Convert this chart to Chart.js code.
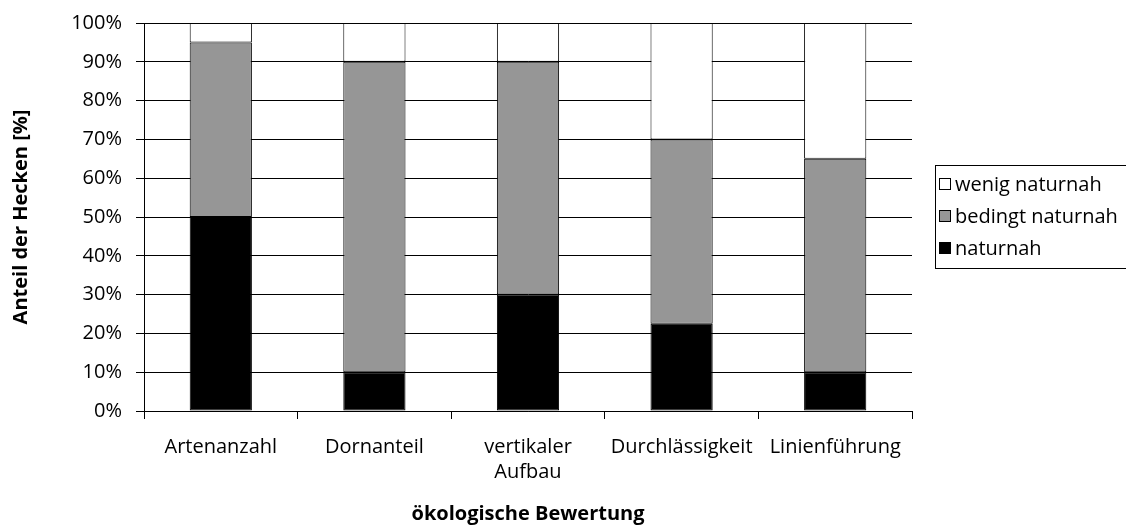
<!DOCTYPE html>
<html lang="de">
<head>
    <meta charset="UTF-8">
    <title>ökologische Bewertung</title>
    <script src="https://cdn.jsdelivr.net/npm/chart.js"></script>
    <style>
        body { margin: 0; background: #fff; }
        #wrap { width: 1126px; height: 526px; }
    </style>
</head>
<body>
    <div id="wrap">
        <canvas id="myChart" width="1126" height="526"></canvas>
    </div>

    <script>
        // Daten
        const categories = ['Artenanzahl', 'Dornanteil', ['vertikaler', 'Aufbau'], 'Durchlässigkeit', 'Linienführung'];
        const naturnah = [50, 10, 30, 22.5, 10];
        const bedingtNaturnah = [45, 80, 60, 47.5, 55];
        const wenigNaturnah = [5, 10, 10, 30, 35];
        const yTicks = [0, 10, 20, 30, 40, 50, 60, 70, 80, 90, 100];

        const FONT = "'Open Sans', 'Noto Sans', sans-serif";

        // eigene Legende mit Rahmen rechts neben dem Diagramm
        const boxLegend = {
            id: 'boxLegend',
            afterDraw(chart) {
                const ctx = chart.ctx;
                const x = 935, y = 165, w = 200, h = 103;
                ctx.save();
                ctx.strokeStyle = '#000';
                ctx.lineWidth = 1;
                ctx.strokeRect(x + 0.5, y + 0.5, w, h);
                ctx.font = '20px ' + FONT;
                ctx.textBaseline = 'middle';
                const sets = chart.data.datasets.slice().reverse();
                sets.forEach((ds, i) => {
                    const cy = Math.round(y + 19 + i * 32);
                    ctx.fillStyle = ds.backgroundColor;
                    ctx.fillRect(x + 4.5, cy - 5.5, 11, 11);
                    ctx.strokeStyle = '#000';
                    ctx.strokeRect(x + 4.5, cy - 5.5, 11, 11);
                    ctx.fillStyle = '#000';
                    ctx.fillText(ds.label, x + 20, cy + 1);
                });
                ctx.restore();
            }
        };

        const data = {
            labels: categories,
            datasets: [
                { label: 'naturnah', data: naturnah, backgroundColor: '#000000' },
                { label: 'bedingt naturnah', data: bedingtNaturnah, backgroundColor: '#969696' },
                { label: 'wenig naturnah', data: wenigNaturnah, backgroundColor: '#ffffff' }
            ].map(d => Object.assign(d, { borderColor: '#000', borderWidth: 1, borderSkipped: false }))
        };

        const config = {
            type: 'bar',
            data: data,
            options: {
                responsive: false,
                animation: false,
                categoryPercentage: 1,
                barPercentage: 0.405,
                layout: { padding: { left: 0, right: 214, top: 23, bottom: 0 } },
                plugins: { legend: { display: false }, tooltip: { enabled: false } },
                scales: {
                    x: {
                        stacked: true,
                        afterFit: s => { s.height = 115; },
                        border: { color: '#000', width: 1 },
                        grid: { offset: true, drawOnChartArea: false, color: '#000', tickLength: 8 },
                        ticks: { color: '#000', font: { family: FONT, size: 20, lineHeight: 1.25 }, maxRotation: 0, autoSkip: false, padding: 16 },
                        title: { display: true, text: 'ökologische Bewertung', color: '#000', font: { family: FONT, size: 20, weight: 'bold', lineHeight: 1.2 }, padding: { top: 0, bottom: 0 } }
                    },
                    y: {
                        stacked: true,
                        min: 0,
                        max: 100,
                        afterFit: s => { s.width = 144; s.paddingTop = 0; s.paddingBottom = 0; },
                        afterBuildTicks: s => { s.ticks = yTicks.map(v => ({ value: v })); },
                        border: { color: '#000', width: 1 },
                        grid: { color: '#000', lineWidth: 1, tickLength: 8 },
                        ticks: { color: '#000', font: { family: FONT, size: 20 }, padding: 14, callback: v => v + '%' },
                        title: { display: true, text: 'Anteil der Hecken [%]', color: '#000', font: { family: FONT, size: 20, weight: 'bold', lineHeight: 1.2 }, padding: { top: 9, bottom: 0 } }
                    }
                }
            },
            plugins: [boxLegend]
        };

        new Chart(document.getElementById('myChart').getContext('2d'), config);
    </script>
</body>
</html>
